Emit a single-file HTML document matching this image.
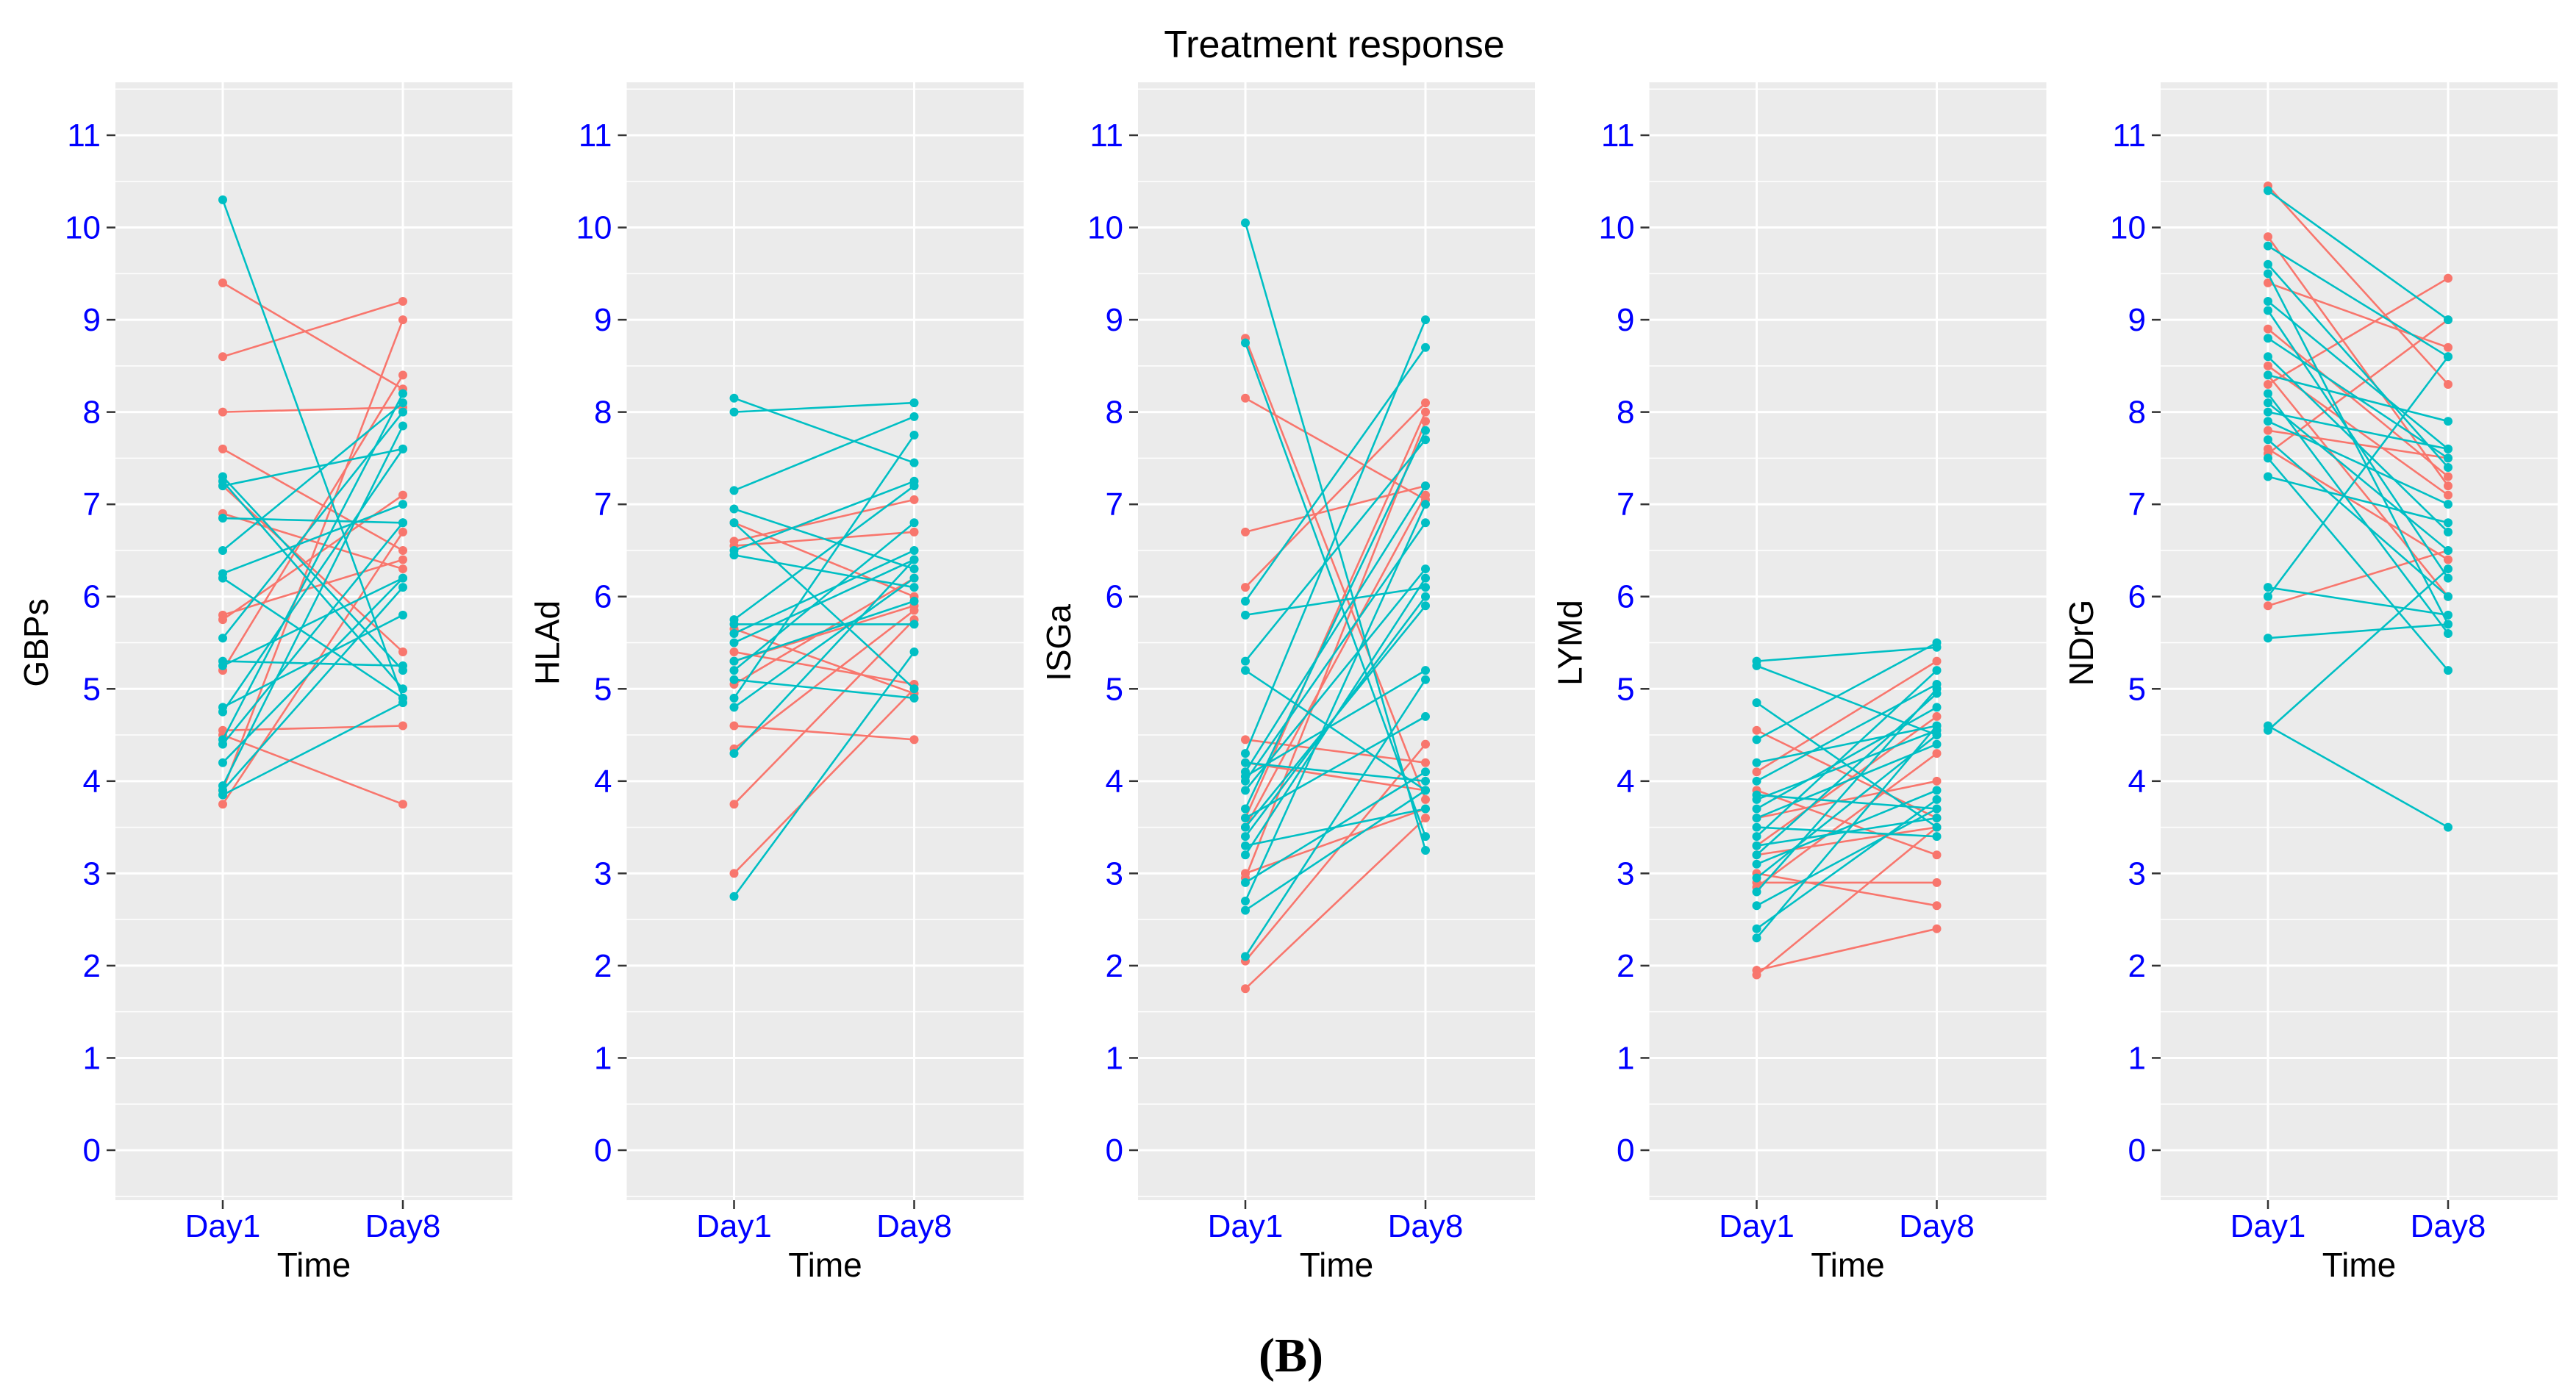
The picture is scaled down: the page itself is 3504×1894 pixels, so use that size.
<!DOCTYPE html>
<html><head><meta charset="utf-8"><style>
html,body{margin:0;padding:0;background:#fff;}
svg{display:block;}
</style></head><body>
<svg id="chart" width="3504" height="1894" viewBox="0 0 3504 1894" xmlns="http://www.w3.org/2000/svg">
<text x="1815" y="78" font-family="Liberation Sans, sans-serif" font-size="52" text-anchor="middle" fill="#000">Treatment response</text>
<text x="1756" y="1866" font-family="Liberation Serif, serif" font-size="66" font-weight="bold" text-anchor="middle" fill="#000">(B)</text>
</svg>
<script>
const panelNames = ["GBPs","HLAd","ISGa","LYMd","NDrG"];
const timeLabels = ["Day1","Day8"];
const yTicks = [0,1,2,3,4,5,6,7,8,9,10,11];
const gbpsCyan = [[10.3,4.9],[7.3,5.2],[7.2,7.6],[6.85,6.8],[6.5,8.1],[6.25,7.0],[6.2,4.9],[5.55,8.0],[5.3,5.25],[5.25,6.2],[4.8,5.8],[4.75,7.6],[4.45,8.2],[4.4,6.8],[4.2,6.2],[3.95,7.85],[3.85,4.85],[3.9,6.1],[7.25,5.0]];
const gbpsRed = [[9.4,8.25],[8.6,9.2],[8.0,8.05],[7.6,6.5],[7.2,5.4],[5.8,6.4],[5.75,7.1],[5.2,8.4],[4.55,4.6],[4.5,3.75],[3.9,9.0],[3.75,6.7],[6.9,6.3]];
const hladCyan = [[8.15,7.45],[8.0,8.1],[7.15,7.95],[6.95,6.3],[6.8,5.0],[6.5,7.25],[6.45,6.1],[5.75,7.2],[5.7,5.7],[5.6,6.5],[5.5,6.4],[5.2,6.8],[5.1,4.9],[4.9,7.75],[4.8,6.2],[4.3,6.4],[2.75,5.4],[5.3,5.95]];
const hladRed = [[6.8,6.0],[6.6,7.05],[6.55,6.7],[5.65,4.95],[5.4,5.05],[5.3,5.9],[5.05,6.2],[4.6,4.45],[4.35,5.85],[3.75,5.75],[3.0,5.0]];
const isgaCyan = [[10.05,3.25],[8.75,3.4],[5.95,8.7],[5.8,6.1],[5.3,7.7],[5.2,3.9],[4.3,9.0],[4.1,7.2],[4.05,5.2],[4.0,6.8],[3.9,6.3],[3.7,7.8],[3.6,4.7],[3.5,5.9],[3.3,3.7],[3.2,6.2],[2.9,4.1],[2.7,7.0],[2.6,3.9],[2.1,5.1],[4.2,4.0],[3.4,6.0]];
const isgaRed = [[8.8,3.8],[8.15,7.05],[6.7,7.2],[6.1,8.1],[4.45,4.2],[4.2,3.9],[3.6,8.0],[3.0,3.7],[2.95,7.9],[2.05,4.4],[1.75,3.6],[3.5,7.1]];
const lymdCyan = [[5.3,5.45],[5.25,4.5],[4.85,3.5],[4.45,5.5],[4.2,4.6],[4.0,5.05],[3.85,3.7],[3.7,4.8],[3.6,4.4],[3.5,3.4],[3.4,5.2],[3.3,3.6],[3.2,4.95],[3.1,3.9],[2.95,4.5],[2.8,5.0],[2.65,3.7],[2.4,3.8],[2.3,4.6],[3.8,4.55]];
const lymdRed = [[4.55,3.6],[4.1,5.3],[3.9,3.2],[3.6,4.0],[3.3,4.7],[3.2,3.5],[3.0,2.65],[2.9,2.9],[2.85,4.3],[1.95,2.4],[1.9,3.5]];
const ndrgCyan = [[10.4,9.0],[9.8,8.6],[9.6,7.4],[9.5,5.7],[9.2,7.6],[9.1,6.2],[8.8,7.5],[8.6,6.7],[8.4,7.9],[8.2,5.6],[8.1,6.5],[7.9,7.0],[7.7,6.0],[7.5,5.2],[7.3,6.8],[6.1,5.8],[6.0,8.6],[5.55,5.7],[4.6,3.5],[4.55,6.3],[8.0,7.6]];
const ndrgRed = [[10.45,8.3],[9.9,7.2],[9.4,8.7],[8.5,7.1],[8.4,6.0],[8.3,9.45],[7.8,7.5],[7.6,6.4],[7.55,9.0],[5.9,6.5],[8.9,7.3]];
const cyanSets = [gbpsCyan,hladCyan,isgaCyan,lymdCyan,ndrgCyan];
const redSets = [gbpsRed,hladRed,isgaRed,lymdRed,ndrgRed];

const NS="http://www.w3.org/2000/svg";
const svg=document.getElementById('chart');
const RED="#F8766D", CYAN="#00BFC4";
const panelX0=157, panelW=540, stride=695.5, plotTop=112, plotBottom=1633;
const y11=184, y0=1565;
function yScale(v){return y0-(v)*(y0-y11)/11;}
function xScale(p,i){return panelX0+p*stride+146+i*245;}
function mk(tag,attrs,parent){const e=document.createElementNS(NS,tag);for(const k in attrs)e.setAttribute(k,attrs[k]);(parent||svg).appendChild(e);return e;}

panelNames.forEach((name,p)=>{
  const g=mk('g',{});
  
  
  const x0=panelX0+p*stride;
  const bg=mk('rect',{x:x0,y:plotTop,width:panelW,height:plotBottom-plotTop,fill:"#EBEBEB"},g);
  
  
  for(let v=-0.5;v<=11.5;v+=1){const yy=yScale(v);if(yy>plotTop&&yy<plotBottom)mk('line',{x1:x0,x2:x0+panelW,y1:yy,y2:yy,stroke:"#fff","stroke-width":1.5},g);}
  yTicks.forEach(v=>{
    const yy=yScale(v);
    mk('line',{x1:x0,x2:x0+panelW,y1:yy,y2:yy,stroke:"#fff","stroke-width":3},g);
    mk('line',{x1:x0-12,x2:x0,y1:yy,y2:yy,stroke:"#333","stroke-width":2.5},g);
    const t=mk('text',{x:x0-20,y:yy+15,"font-family":"Liberation Sans, sans-serif","font-size":44,"text-anchor":"end",fill:"#0000FF"},g);
    t.textContent=v;
    
    
  });
  timeLabels.forEach((lab,i)=>{
    const xx=xScale(p,i);
    mk('line',{x1:xx,x2:xx,y1:plotTop,y2:plotBottom,stroke:"#fff","stroke-width":3},g);
    mk('line',{x1:xx,x2:xx,y1:plotBottom,y2:plotBottom+12,stroke:"#333","stroke-width":2.5},g);
    const t=mk('text',{x:xx,y:1683,"font-family":"Liberation Sans, sans-serif","font-size":44,"text-anchor":"middle",fill:"#0000FF"},g);
    t.textContent=lab;
    
    
  });
  const xt=mk('text',{x:x0+panelW/2,y:1737,"font-family":"Liberation Sans, sans-serif","font-size":46,"text-anchor":"middle",fill:"#000"},g);
  xt.textContent="Time";
  
  
  const yt=mk('text',{x:0,y:0,"font-family":"Liberation Sans, sans-serif","font-size":46,"text-anchor":"middle",fill:"#000",transform:`translate(${x0-92},${yScale(5.5)}) rotate(-90)`},g);
  yt.textContent=name;
  
  
  [[redSets[p],RED],[cyanSets[p],CYAN]].forEach(([set,col])=>{
    set.forEach(d=>{
      const l=mk('line',{x1:xScale(p,0),y1:yScale(d[0]),x2:xScale(p,1),y2:yScale(d[1]),stroke:col,"stroke-width":2.6},g);
      
      
      d.forEach((v,i)=>{
        const c=mk('circle',{cx:xScale(p,i),cy:yScale(v),r:6,fill:col},g);
        
        
      });
    });
  });
});
</script>
</body></html>
